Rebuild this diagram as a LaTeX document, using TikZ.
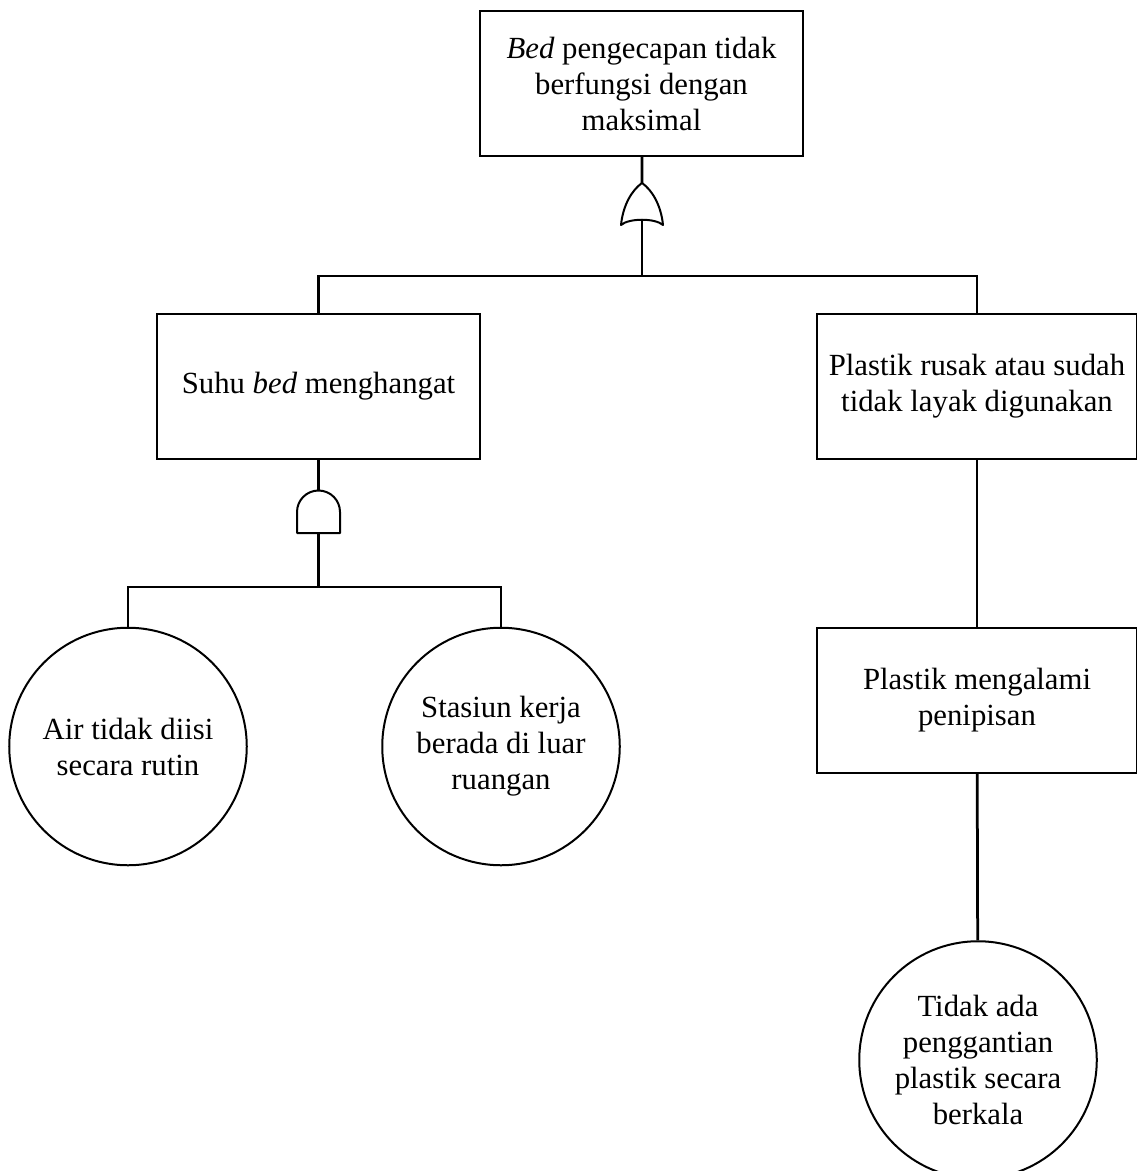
\documentclass[tikz,border=0pt]{standalone}
\usepackage{fontspec}
\setmainfont{Liberation Serif}
\usetikzlibrary{positioning}
\tikzset{
  event/.style ={draw, rectangle, line width=0.8pt, align=center, minimum width=#1, minimum height=58pt, inner sep=2pt},
  basic/.style ={draw, circle, line width=0.8pt, align=center, minimum size=95pt, inner sep=0pt},
  gate/.style  ={line width=0.8pt, line join=round}
}

\begin{document}
\begin{tikzpicture}[x=0.4pt, y=-0.4pt, line width=1.1pt,
                    font=\fontsize{12.3}{14.4}\selectfont]
\useasboundingbox (0,0) rectangle (1137,1171);
\node[event=129pt] (0) at (641.5,83.5) {\textit{Bed} pengecapan tidak\\berfungsi dengan\\maksimal};
\node[event=129pt] (1) at (318.5,386.5) {Suhu \textit{bed} menghangat};
\node[event=128pt] (2) at (977,386.5) {Plastik rusak atau sudah\\tidak layak digunakan};
\node[event=128pt] (3) at (977,700.5) {Plastik mengalami\\penipisan};
\node[basic] (4) at (128,746.5) {Air tidak diisi\\secara rutin};
\node[basic] (5) at (501,746.5) {Stasiun kerja\\berada di luar\\ruangan};
\node[basic] (6) at (978,1060) {Tidak ada\\penggantian\\plastik secara\\berkala};

\coordinate (or) at (642,183);
\coordinate (orin) at (642,220);
\coordinate (orbar) at (642,276);
\coordinate (and) at (318.5,490);
\coordinate (andin) at (318.5,533);
\coordinate (andbar) at (318.5,587);

\draw[gate] (621,225) .. controls (623,205) and (632,190) .. (or)
            .. controls (652,190) and (661,205) .. (663,225)
            .. controls (655,218) and (629,218) .. cycle;
\draw[gate] (297,533) -- (297,512) arc[start angle=180, end angle=360, radius=21.5] -- (340,533) -- cycle;

\draw (0) -- (or);
\draw (orin) -- (orbar);
\draw (1.north) |- (orbar) -| (2.north);
\draw (1) -- (and);
\draw (andin) -- (andbar);
\draw (4.north) |- (andbar) -| (5.north);
\draw (2) -- (3);
\draw (3) -- (6);
\end{tikzpicture}
\end{document}
